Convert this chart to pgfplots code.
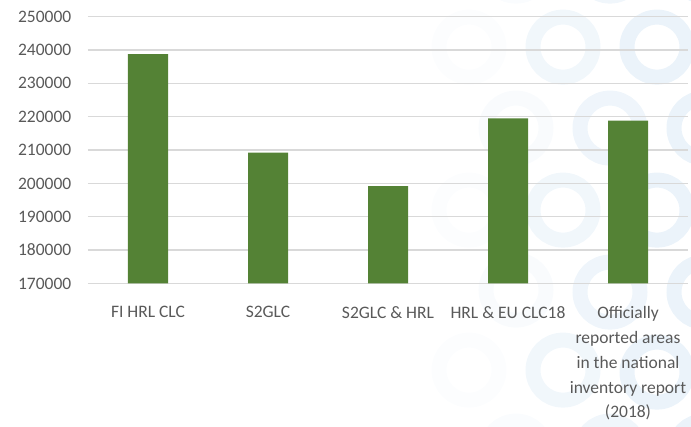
\documentclass[border=0pt]{standalone}
\usepackage{pgfplots}
\pgfplotsset{compat=1.18}
\usepackage{fontspec}
\setmainfont{Carlito}
\definecolor{bargreen}{HTML}{548235}
\definecolor{gridgray}{HTML}{D9D9D9}
\definecolor{labelgray}{HTML}{595959}
\definecolor{ringblue}{HTML}{E4EFF8}
\begin{document}
\begin{tikzpicture}
\begin{scope}
\clip (-88pt,-142.7pt) rectangle (603pt,283.4pt);
\foreach \x/\y/\o in {469/47/0.1, 469/210/0.1, 469/370/0.1,
  516/-34/0.2, 610/-34/0.55, 704/-34/0.75,
  563/47/0.5, 657/47/0.75,
  516/128/0.22, 610/128/0.6, 704/128/0.75,
  563/210/0.5, 657/210/0.75,
  516/290/0.22, 610/292/0.6, 704/292/0.75,
  563/370/0.5, 657/372/0.75,
  516/451/0.2, 610/451/0.55, 704/451/0.75}
{
  \draw[ringblue, line width=15pt, opacity=\o] ({(\x-88)*1pt},{(283.3-\y)*1pt}) circle (30pt);
}
\end{scope}
\begin{axis}[
  at={(0,0)}, anchor=south west,
  scale only axis, width=600pt, height=266.7pt,
  xmin=-0.5, xmax=4.5, ymin=170000, ymax=250000,
  ytick={170000,180000,190000,200000,210000,220000,230000,240000,250000},
  yticklabels={170000,180000,190000,200000,210000,220000,230000,240000,250000},
  xtick={0,1,2,3,4},
  xticklabels={FI HRL CLC, S2GLC, S2GLC \& HRL, HRL \& EU CLC18, {Officially\\reported areas\\in the national\\inventory report\\(2018)}},
  ymajorgrids, major grid style={gridgray, line width=1.3pt},
  axis line style={draw=none},
  major tick length=0pt,
  scaled y ticks=false,
  tick label style={font=\fontsize{17.5}{24.8}\selectfont, text=labelgray},
  yticklabel style={anchor=east, inner sep=0pt, xshift=-16.5pt},
  xticklabel style={anchor=north, inner sep=0pt, yshift=-23pt, align=center},
]
\addplot[ybar, bar width=40pt, fill=bargreen, draw=none] coordinates {(0,238800) (1,209200) (2,199200) (3,219500) (4,218800)};
\end{axis}
\pgfresetboundingbox
\useasboundingbox (-88pt,-142.7pt) rectangle (603pt,283.4pt);
\end{tikzpicture}
\end{document}
